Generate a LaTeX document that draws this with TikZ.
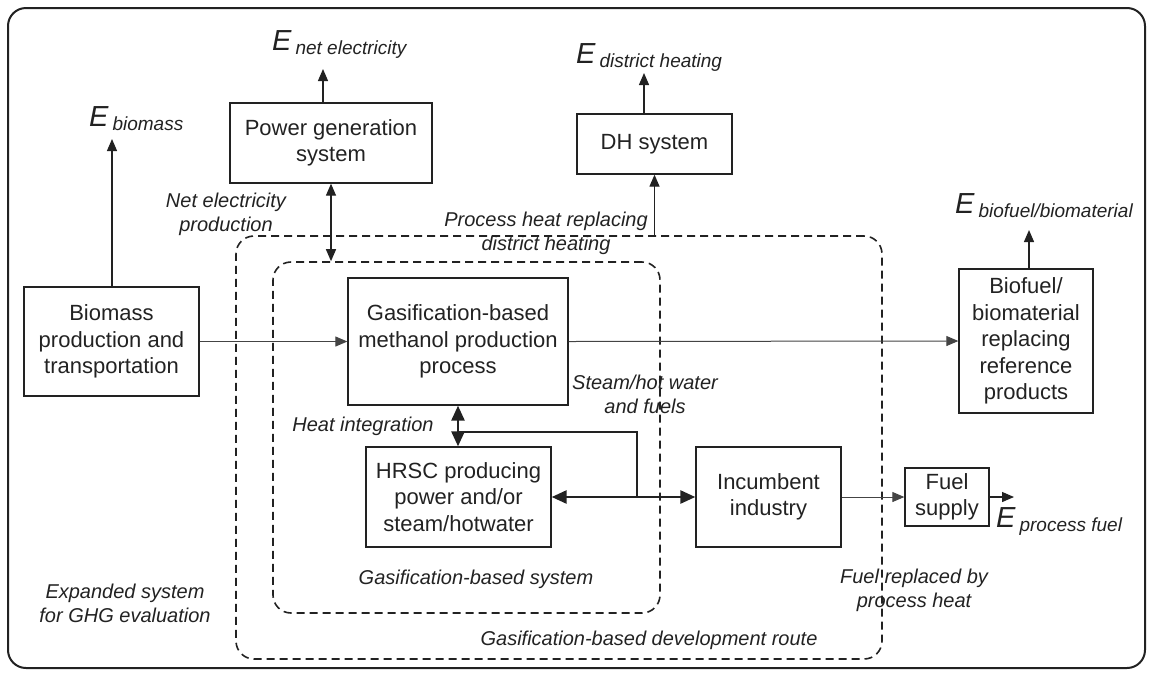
\documentclass[tikz,border=0pt]{standalone}
\usepackage{fontspec}
\setmainfont{Liberation Sans}
\usetikzlibrary{arrows.meta}
\definecolor{ink}{HTML}{222222}
\definecolor{thinink}{HTML}{444444}
\newcommand{\boxfont}{\fontsize{22}{26.5}\selectfont}
\newcommand{\lblfont}{\fontsize{20}{24}\selectfont\itshape}
\newcommand{\Elab}[1]{{\fontsize{29}{29}\selectfont\itshape E}\hspace{4pt}\raisebox{-4pt}{\fontsize{19}{19}\selectfont\itshape #1}}
\tikzset{
  blk/.style={draw=ink, line width=1.3pt, align=center, font=\boxfont, text=ink, inner sep=0pt},
  dbox/.style={draw=ink, line width=1.6pt, dash pattern=on 8pt off 5pt, rounded corners=18pt, inner sep=0pt},
  lbl/.style={font=\lblfont, align=center, text=ink, inner sep=0pt},
  elab/.style={anchor=base west, inner sep=0pt, text=ink},
  uparr/.style={draw=ink, line width=1.3pt, -{Triangle[length=12pt,width=10pt]}},
  harr/.style={draw=thinink, line width=1pt, -{Triangle[length=12pt,width=10pt]}},
  dblarr/.style={draw=ink, line width=1.3pt, {Triangle[length=12pt,width=10pt]}-{Triangle[length=12pt,width=10pt]}},
  thk/.style={draw=ink, line width=2.6pt},
  thkdbl/.style={draw=ink, line width=2.6pt, {Triangle[length=15pt,width=13pt]}-{Triangle[length=15pt,width=13pt]}}
}
\begin{document}
\begin{tikzpicture}[x=1pt,y=-1pt]
\useasboundingbox (0,0) rectangle (1150,673);
% outer frame
\draw[draw=ink, line width=2pt, rounded corners=18pt] (8,8) rectangle (1145,668);

% dashed system boundaries
\node[dbox, minimum width=646pt, minimum height=423pt] (route) at (559,447.5) {};
\node[dbox, minimum width=387pt, minimum height=351pt] (sys) at (466.5,437.5) {};

% blocks
\node[blk, minimum width=175pt, minimum height=109pt] (bio) at (111.5,341.5) {Biomass\\production and\\transportation};
\node[blk, minimum width=202pt, minimum height=80pt] (pow) at (331,143) {Power generation\\system};
\node[blk, minimum width=155pt, minimum height=60pt] (dh) at (654.5,144) {DH system};
\node[blk, minimum width=220pt, minimum height=127pt] (gas) at (458,341.5) {Gasification-based\\methanol production\\process};
\node[blk, minimum width=185pt, minimum height=100pt] (hrsc) at (458.5,497) {HRSC producing\\power and/or\\steam/hotwater};
\node[blk, minimum width=145pt, minimum height=100pt] (inc) at (768.5,497) {Incumbent\\industry};
\node[blk, minimum width=84pt, minimum height=58pt] (fuel) at (947,497) {Fuel\\supply};
\node[blk, minimum width=134pt, minimum height=144pt] (biof) at (1026,341) {Biofuel/\\biomaterial\\replacing\\reference\\products};

% E labels
\node[elab] (ebio) at (89,126) {\Elab{biomass}};
\node[elab] (enet) at (272,50) {\Elab{net electricity}};
\node[elab] (edh) at (576,63) {\Elab{district heating}};
\node[elab] (ebf) at (955,213) {\Elab{biofuel/biomaterial}};
\node[elab] (epf) at (996,527) {\Elab{process fuel}};

% arrow end points
\coordinate (ebioA) at (112,139);
\coordinate (enetA) at (323,69);
\coordinate (edhA) at (644,73);
\coordinate (ebfA) at (1029,230);
\coordinate (epfA) at (1014,497);
\coordinate (junc) at (637,432);

% italic labels
\node[lbl] (lnet) at (226,214) {Net electricity\\production};
\node[lbl] (lproc) at (546,233) {Process heat replacing\\district heating};
\node[lbl] (lheat) at (363,426) {Heat integration};
\node[lbl] (lsteam) at (645,394) {Steam/hot water\\and fuels};
\node[lbl] (lsys) at (476,579) {Gasification-based system};
\node[lbl] (lroute) at (649,640) {Gasification-based development route};
\node[lbl] (lexp) at (125,603) {Expanded system\\for GHG evaluation};
\node[lbl] (lfr) at (914,590) {Fuel replaced by\\process heat};

% connectors
\draw[uparr] (bio.north -| ebioA) -- (ebioA);
\draw[uparr] (pow.north -| enetA) -- (enetA);
\draw[uparr] (dh.north -| edhA) -- (edhA);
\draw[uparr] (biof.north -| ebfA) -- (ebfA);
\draw[dblarr] (pow.south) -- (sys.north -| pow.south);
\draw[uparr] (route.north -| dh.south) -- (dh.south);
\draw[harr] (bio.east) -- (gas.west);
\draw[harr] (gas.east) -- (biof.west);
\draw[harr] (inc.east) -- (fuel.west);
\draw[uparr] (fuel.east) -- (epfA);
\draw[thkdbl] (gas.south) -- (hrsc.north -| gas.south);
\draw[thk] (junc -| gas.south) -- (junc) -- (junc |- hrsc.east);
\draw[thkdbl] (hrsc.east) -- (inc.west);
\end{tikzpicture}
\end{document}
